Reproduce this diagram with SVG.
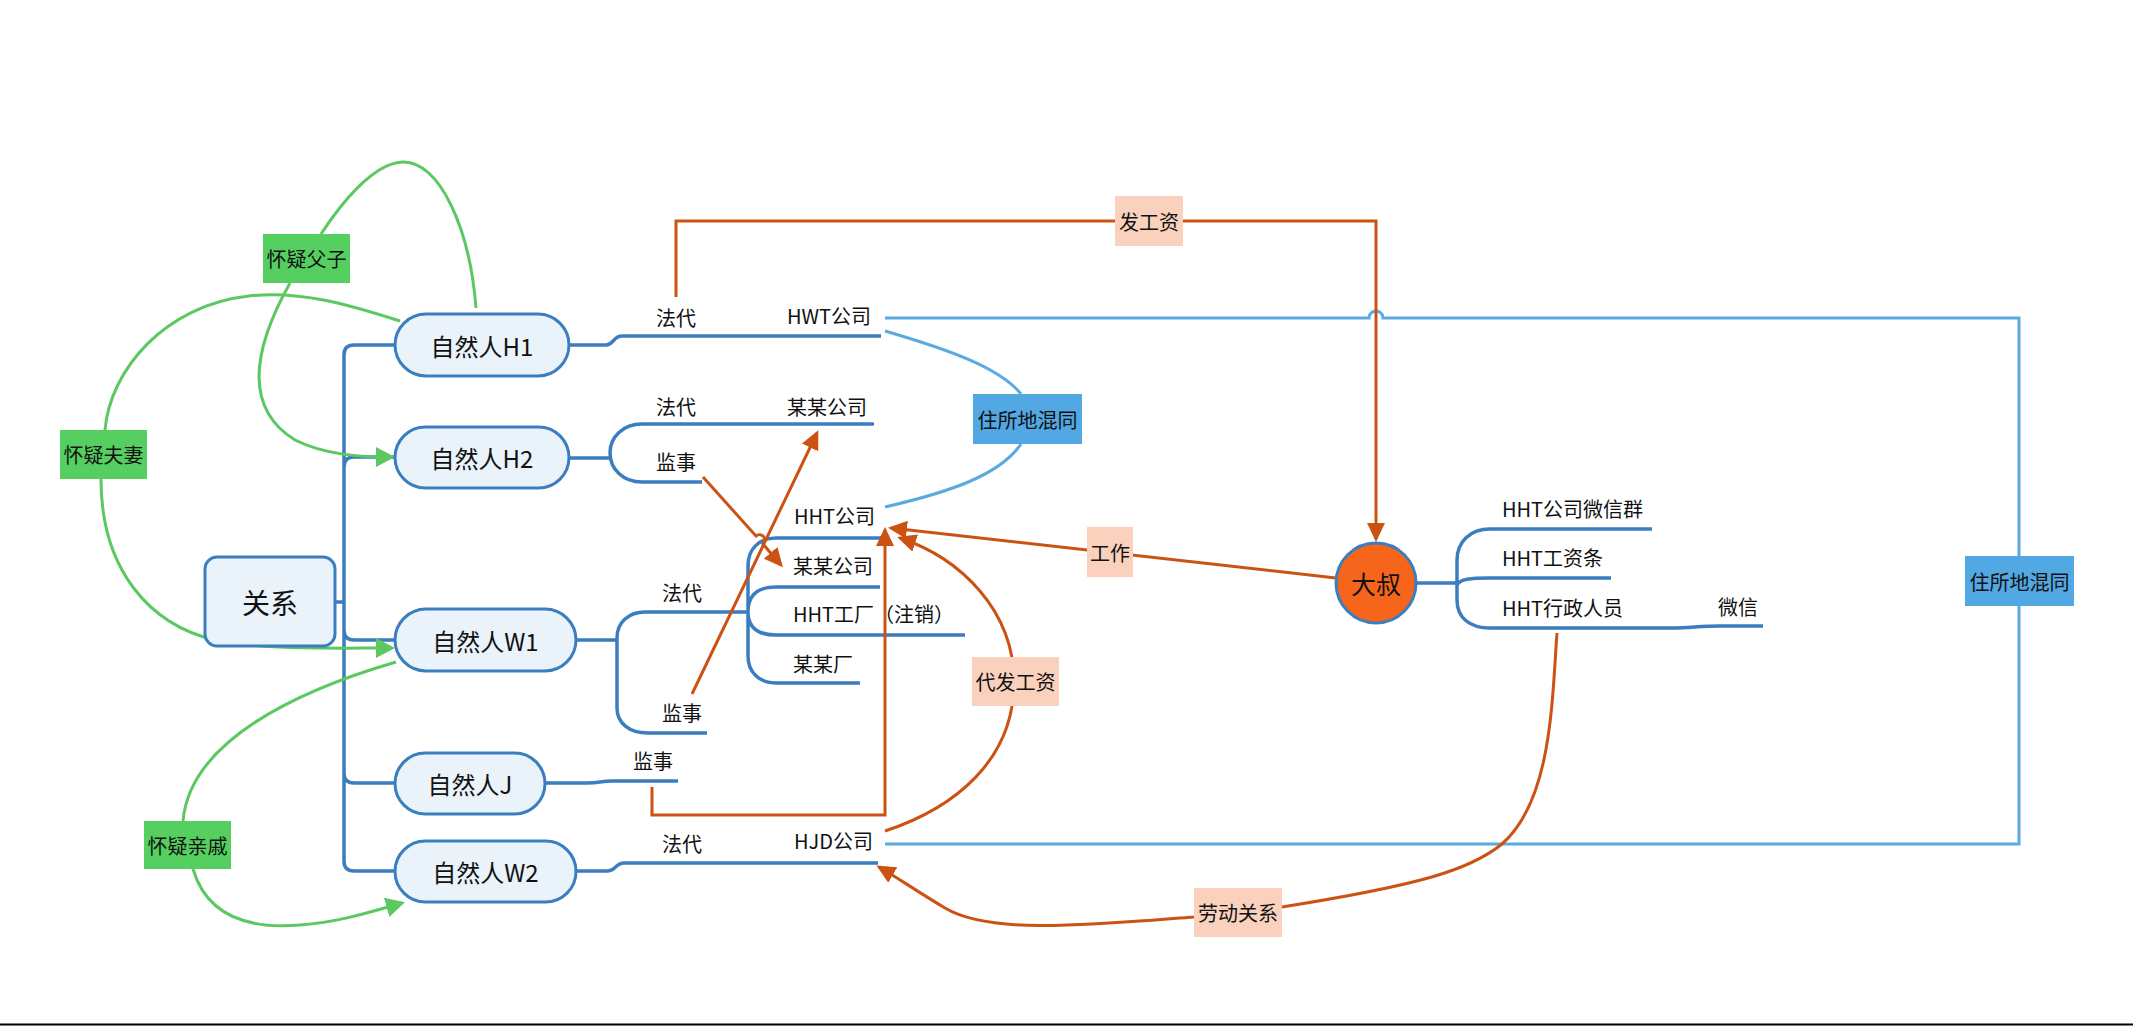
<svg xmlns="http://www.w3.org/2000/svg" width="2133" height="1026" viewBox="0 0 2133 1026">
<style>
text{font-family:"Noto Sans CJK SC","Noto Sans",sans-serif;fill:#111;}
.t{font-size:20px;}
.c{text-anchor:middle;dominant-baseline:central;}
.node{fill:#EAF2FA;stroke:#3A7EBF;stroke-width:3;}
.nt{font-size:24px;}
.br{fill:none;stroke:#3A7EBF;stroke-width:3.5;}
.lb{fill:none;stroke:#5AAAE0;stroke-width:3;}
.or{fill:none;stroke:#CC5214;stroke-width:3;}
.gr{fill:none;stroke:#5CC862;stroke-width:3;}
.gbox{fill:#55D060;}
.obox{fill:#FAD1BD;}
.bbox{fill:#52A8E2;}
</style>
<defs>
<marker id="ao" markerUnits="userSpaceOnUse" markerWidth="20" markerHeight="18" refX="16" refY="9" orient="auto"><path d="M0,0 L19,9 L0,18 z" fill="#CC5214"/></marker>
<marker id="ag" markerUnits="userSpaceOnUse" markerWidth="20" markerHeight="20" refX="16" refY="10" orient="auto"><path d="M0,0 L19,10 L0,20 z" fill="#5CC862"/></marker>
</defs>
<rect x="0" y="0" width="2133" height="1026" fill="#fff"/>
<line x1="0" y1="1024.5" x2="2133" y2="1024.5" stroke="#000" stroke-width="2"/>

<g id="connectors">
  <!-- trunk -->
  <path class="br" d="M335,602 H344 M395,345 H354 Q344,345 344,355 V861 Q344,871 354,871 H395 M344,467 Q344,457 354,457 H395 M344,630 Q344,640 354,640 H395 M344,773 Q344,783 354,783 H395"/>
  <!-- H1 -->
  <path class="br" d="M569,345 H606 C614,345 613,336 622,336 H881"/>
  <!-- H2 -->
  <path class="br" d="M569,458 H610 M874,424 H642 C623,424 610,437 610,453 C610,469 623,482 642,482 H702"/>
  <!-- W1 -->
  <path class="br" d="M576,640 H617 M748,612 H645 C629,612 617,622 617,638 V708 C617,723 629,733 648,733 H707"/>
  <path class="br" d="M882,538 H776 C759,538 748,549 748,566 V656 C748,672 759,683 776,683 H860 M748,612 C748,595 758,587 776,587 H880 M748,612 C748,628 758,635 776,635 H965"/>
  <!-- J -->
  <path class="br" d="M545,783 H587 C600,783 600,781 612,781 H678"/>
  <!-- W2 -->
  <path class="br" d="M576,871 H608 C616,871 615,863 624,863 H878"/>
  <!-- 大叔 -->
  <path class="br" d="M1416,583 H1457 M1652,529 H1490 C1470,529 1457,542 1457,560 V600 C1457,618 1470,628 1490,628 H1672 C1690,628 1700,626 1720,626 H1763 M1457,585 C1460,579 1470,578 1490,578 H1611"/>

  <!-- light blue -->
  <path class="lb" d="M885,318 H1369 A7,7 0 0 1 1383,318 H2019 V844 H885"/>
  <path class="lb" d="M885,331 C950,350 1000,368 1021,394 M1021,444 C1000,475 950,492 885,507"/>

  <!-- orange -->
  <path class="or" d="M676,297 V221 H1376 V539" marker-end="url(#ao)"/>
  <path class="or" d="M1336,578 L891,528" marker-end="url(#ao)"/>
  <path class="or" d="M885,831 C955,808 1014,760 1014,682 C1014,610 960,558 900,538" marker-end="url(#ao)"/>
  <path class="or" d="M652,787 V815 H885 V530" marker-end="url(#ao)"/>
  <path class="or" d="M692,694 L817,433" marker-end="url(#ao)"/>
  <path class="or" d="M703,477 L756,536 A5,5 0 0 1 763,544 L781,565" marker-end="url(#ao)"/>
  <path class="or" d="M1557,633 C1552,700 1552,800 1502,844 C1470,870 1420,885 1282,907 L1194,917 C1090,925 990,935 945,908 C918,892 898,878 879,867" marker-end="url(#ao)"/>

  <!-- green -->
  <path class="gr" d="M476,308 C470,230 440,160 402,162 C372,164 340,205 321,234"/>
  <path class="gr" d="M290,283 C258,340 238,405 295,440 C325,455 360,457 392,457" marker-end="url(#ag)"/>
  <path class="gr" d="M400,321 C350,305 300,290 249,296 C165,305 110,370 105,430"/>
  <path class="gr" d="M101,479 C101,570 150,625 215,640 C260,650 330,648 392,648" marker-end="url(#ag)"/>
  <path class="gr" d="M396,662 C300,690 190,740 183,821"/>
  <path class="gr" d="M193,869 C205,910 240,930 300,925 C340,922 370,912 402,903" marker-end="url(#ag)"/>
</g>

<g id="relation"><rect class="node" x="205" y="557" width="130" height="89" rx="12"/><text class="c" x="270" y="602" font-size="28">关系</text></g>
<g id="h1"><rect class="node" x="395" y="314" width="174" height="62" rx="31"/><text class="c nt" x="482" y="345">自然人H1</text></g>
<g id="h2"><rect class="node" x="395" y="427" width="174" height="61" rx="30.5"/><text class="c nt" x="482" y="457.5">自然人H2</text></g>
<g id="w1"><rect class="node" x="395" y="609" width="181" height="62" rx="31"/><text class="c nt" x="485.5" y="640">自然人W1</text></g>
<g id="j"><rect class="node" x="395" y="753" width="150" height="61" rx="30.5"/><text class="c nt" x="470" y="783.5">自然人J</text></g>
<g id="w2"><rect class="node" x="395" y="841" width="181" height="61" rx="30.5"/><text class="c nt" x="485.5" y="871.5">自然人W2</text></g>

<g id="h1-fadai"><text class="t" x="656" y="326">法代</text></g>
<g id="hwt"><text class="t" x="787" y="324">HWT公司</text></g>
<g id="h2-fadai"><text class="t" x="656" y="415">法代</text></g>
<g id="moumou1"><text class="t" x="787" y="415">某某公司</text></g>
<g id="h2-jianshi"><text class="t" x="656" y="470">监事</text></g>
<g id="w1-fadai"><text class="t" x="662" y="601">法代</text></g>
<g id="w1-jianshi"><text class="t" x="662" y="721">监事</text></g>
<g id="hht"><text class="t" x="794" y="524">HHT公司</text></g>
<g id="moumou2"><text class="t" x="793" y="574">某某公司</text></g>
<g id="hhtfactory"><text class="t" x="793" y="622">HHT工厂（注销）</text></g>
<g id="moumouchang"><text class="t" x="793" y="672">某某厂</text></g>
<g id="j-jianshi"><text class="t" x="633" y="769">监事</text></g>
<g id="w2-fadai"><text class="t" x="662" y="852">法代</text></g>
<g id="hjd"><text class="t" x="794" y="849">HJD公司</text></g>

<g id="dashu"><circle cx="1376" cy="583" r="40" fill="#F7641B" stroke="#3A7EBF" stroke-width="3"/><text class="c" x="1376" y="583" font-size="25">大叔</text></g>
<g id="wxgroup"><text class="t" x="1502" y="517">HHT公司微信群</text></g>
<g id="payslip"><text class="t" x="1502" y="566">HHT工资条</text></g>
<g id="admin"><text class="t" x="1502" y="616">HHT行政人员</text></g>
<g id="wechat"><text class="t" x="1718" y="615">微信</text></g>

<g id="lbl-fuzi"><rect class="gbox" x="263" y="234" width="87" height="49"/><text class="c t" x="306.5" y="258.5">怀疑父子</text></g>
<g id="lbl-fuqi"><rect class="gbox" x="60" y="430" width="87" height="49"/><text class="c t" x="103.5" y="454.5">怀疑夫妻</text></g>
<g id="lbl-qinqi"><rect class="gbox" x="144" y="821" width="87" height="48"/><text class="c t" x="187.5" y="845">怀疑亲戚</text></g>
<g id="lbl-fagongzi"><rect class="obox" x="1115" y="196" width="68" height="50"/><text class="c t" x="1149" y="221">发工资</text></g>
<g id="lbl-zhusuo1"><rect class="bbox" x="973" y="394" width="109" height="50"/><text class="c t" x="1027.5" y="419">住所地混同</text></g>
<g id="lbl-zhusuo2"><rect class="bbox" x="1965" y="556" width="109" height="50"/><text class="c t" x="2019.5" y="581">住所地混同</text></g>
<g id="lbl-gongzuo"><rect class="obox" x="1087" y="527" width="46" height="50"/><text class="c t" x="1110" y="552">工作</text></g>
<g id="lbl-daifa"><rect class="obox" x="972" y="657" width="87" height="49"/><text class="c t" x="1015.5" y="681.5">代发工资</text></g>
<g id="lbl-laodong"><rect class="obox" x="1194" y="888" width="88" height="49"/><text class="c t" x="1238" y="912.5">劳动关系</text></g>
</svg>
